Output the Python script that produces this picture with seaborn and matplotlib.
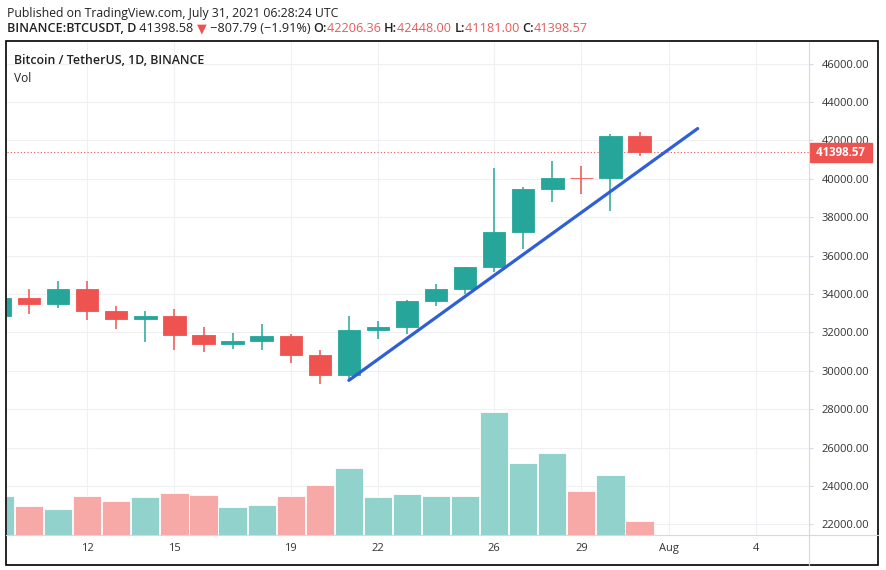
import numpy as np
import matplotlib
matplotlib.use("Agg")
import matplotlib.pyplot as plt
import seaborn as sns
from matplotlib.patches import Rectangle
from matplotlib.lines import Line2D

# Daily BTCUSDT candles, Jul 9 .. Jul 31 2021 (day number = day of July, Aug 1 = 32)
days = np.arange(9, 32)
opens = [32860, 33810, 33500, 34260, 33090, 32720, 32840, 31860, 31370, 31570, 31800, 30840,
         29780, 32150, 32300, 33630, 34250, 35390, 37240, 39470, 40040, 40020, 42206.36]
highs = [34100, 34260, 34680, 34680, 33390, 33110, 33220, 32280, 31980, 32430, 31910, 31080,
         32870, 32590, 33690, 34540, 35410, 40560, 39590, 40950, 40680, 42350, 42448.00]
lows = [32260, 32970, 33290, 32660, 32170, 31510, 31080, 30990, 31150, 31080, 30380, 29290,
        29460, 31670, 31940, 33370, 34000, 35160, 36350, 38770, 39190, 38300, 41181.00]
closes = [33810, 33500, 34260, 33090, 32720, 32840, 31860, 31370, 31570, 31800, 30840, 29780,
          32150, 32300, 33630, 34250, 35390, 37240, 39470, 40040, 40020, 42206.36, 41398.57]
# volume, thousand BTC
volumes = [39, 29, 26, 39, 34, 38, 42, 40, 28, 30, 39, 50,
           67, 38, 41, 39, 39, 123, 72, 82, 44, 60, 14]

# hand drawn trend line
trend_days = [21.0, 33.0]
trend_prices = [29500, 42620]

last_price = 41398.57
xtick_days = [12, 15, 19, 22, 26, 29, 32, 35]
xtick_labels = ["12", "15", "19", "22", "26", "29", "Aug", "4"]
ytick_prices = np.arange(22000, 46001, 2000)

UP = "#26a69a"
DOWN = "#ef5350"
UP_VOL = "#92d2cc"
DOWN_VOL = "#f7a9a7"
GRID = "#eef0f4"
AXLINE = "#d6d9e0"
TEXT = "#333333"

sns.set_style("white")
plt.rcParams["font.family"] = ["Open Sans", "DejaVu Sans"]

W, H = 886, 570
fig = plt.figure(figsize=(W / 100, H / 100), dpi=100)
ax = fig.add_axes([7 / W, 35 / H, 802 / W, 493 / H])

opens = np.array(opens)
closes = np.array(closes)
up = closes >= opens
colors = np.where(up, UP, DOWN)
vol_colors = np.where(up, UP_VOL, DOWN_VOL)

# volume pane on a hidden twin axis
axv = ax.twinx()
axv.bar(days, volumes, width=0.97, color=vol_colors, edgecolor="white", linewidth=0.6)
axv.set_ylim(0, max(volumes) * 4.0)
axv.set_yticks([])
for s in axv.spines.values():
    s.set_visible(False)

# candles
ax.vlines(days, lows, highs, colors=colors, linewidth=1.1, zorder=3)
ax.bar(days, np.abs(closes - opens), bottom=np.minimum(opens, closes), width=0.77,
       color=colors, edgecolor=colors, linewidth=0.6, zorder=4)

sns.lineplot(x=trend_days, y=trend_prices, color="#2f5fd6", linewidth=2.3, ax=ax, zorder=5)
ax.axhline(last_price, color=DOWN, linestyle=(0, (1, 2)), linewidth=0.8, zorder=2)

ax.set_xlim(9.24, 36.83)
ax.set_ylim(21444, 47129)
ax.set_xticks(xtick_days)
ax.set_xticklabels(xtick_labels)
ax.set_yticks(ytick_prices)
ax.set_yticklabels([f"{p:.2f}" for p in ytick_prices])
ax.yaxis.tick_right()
ax.tick_params(axis="x", length=0, pad=6, labelsize=8, labelcolor=TEXT)
ax.tick_params(axis="y", length=3, width=0.8, color=AXLINE, pad=6, labelsize=8, labelcolor=TEXT)
ax.grid(True, color=GRID, linewidth=0.8)
ax.set_axisbelow(True)
ax.set_xlabel("")
ax.set_ylabel("")
for s in ax.spines.values():
    s.set_visible(False)

# last price tag on the price scale (covers part of the 42000 label, as in the original)
ax.annotate(f" {last_price:.2f} ", xy=(1.0, last_price), xycoords=ax.get_yaxis_transform(),
            xytext=(3.2, -0.5), textcoords="offset points", va="center", ha="left",
            fontsize=8.3, fontweight="bold", color="white", annotation_clip=False, zorder=10,
            bbox=dict(boxstyle="square,pad=0.28", facecolor=DOWN, edgecolor=DOWN))

# frame lines
fig.add_artist(Line2D([809 / W, 809 / W], [5 / H, 528 / H], color=AXLINE, linewidth=0.8))
fig.add_artist(Line2D([6 / W, 878 / W], [35 / H, 35 / H], color=AXLINE, linewidth=0.8))
fig.add_artist(Rectangle((6 / W, 5 / H), 872 / W, 524 / H, fill=False, edgecolor="black",
                         linewidth=1.2))

# header and legend texts
def draw_segments(x, y, parts, size):
    renderer = fig.canvas.get_renderer()
    for text, color, weight in parts:
        t = fig.text(x / W, 1 - y / H, text, color=color, fontsize=size, fontweight=weight,
                     va="center", ha="left")
        x += t.get_window_extent(renderer=renderer).width

RED_TXT = "#e25c5a"
draw_segments(7, 13, [("Published on TradingView.com, July 31, 2021 06:28:24 UTC", "#222222", "normal")], 8.8)
draw_segments(7, 29, [
    ("BINANCE:BTCUSDT, D", "#222222", "semibold"),
    (" 41398.58 ", "#222222", "normal"),
    ("▼", DOWN, "normal"),
    (" \u2212807.79 (\u22121.91%) ", "#222222", "normal"),
    ("O:", "#222222", "semibold"), ("42206.36 ", RED_TXT, "normal"),
    ("H:", "#222222", "semibold"), ("42448.00 ", RED_TXT, "normal"),
    ("L:", "#222222", "semibold"), ("41181.00 ", RED_TXT, "normal"),
    ("C:", "#222222", "semibold"), ("41398.57", RED_TXT, "normal"),
], 9.1)
draw_segments(14, 61, [("Bitcoin / TetherUS, 1D, BINANCE", "#222222", "semibold")], 8.9)
draw_segments(14, 78, [("Vol", "#222222", "normal")], 8.6)

fig.savefig("out.png", dpi=100, facecolor="white")
